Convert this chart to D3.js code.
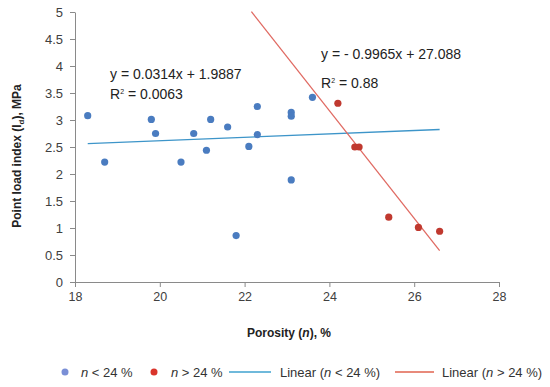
<!DOCTYPE html>
<html><head><meta charset="utf-8">
<script src="https://cdn.jsdelivr.net/npm/d3@7"></script>
<style>body{margin:0;background:#fff}svg{display:block}text{font-family:"Liberation Sans",Arial,sans-serif}</style>
</head><body><svg id="c" width="550" height="387"></svg>
<script>
const lowX = [18.3,18.7,19.8,19.9,20.5,20.8,21.1,21.2,21.6,21.8,22.1,22.3,22.3,23.1,23.1,23.1,23.6];
const lowY = [3.08,2.22,3.01,2.75,2.22,2.75,2.44,3.01,2.87,0.86,2.51,3.25,2.73,3.14,3.07,1.89,3.42];
const highX = [24.2,24.6,24.7,25.4,26.1,26.6];
const highY = [3.31,2.50,2.50,1.20,1.01,0.94];
const xTicks = [18,20,22,24,26,28];
const yTicks = [0,0.5,1,1.5,2,2.5,3,3.5,4,4.5,5];
const lowFit = {slope:0.0314, intercept:1.9887, x0:18.3, x1:26.6};
const highFit = {slope:-0.9965, intercept:27.088, x0:22.16, x1:26.6};

const svg = d3.select('#c');
const x = d3.scaleLinear().domain([18,28]).range([75,499]);
const y = d3.scaleLinear().domain([0,5]).range([282,12]);
const axisCol = '#8a8a8a', txtCol = '#404040';

const xa = svg.append('g').attr('transform','translate(0,282)')
  .call(d3.axisBottom(x).tickValues(xTicks).tickSize(5).tickSizeOuter(0).tickFormat(d3.format('d')));
const ya = svg.append('g').attr('transform','translate(75,0)')
  .call(d3.axisLeft(y).tickValues(yTicks).tickSize(5).tickSizeOuter(0).tickFormat(d=>String(d)));
[xa,ya].forEach(a=>{
  a.selectAll('path,line').attr('stroke',axisCol);
  a.selectAll('text').attr('fill',txtCol);
});
xa.selectAll('text').style('font-size','12.5px').attr('y',19).attr('dy',0);
ya.selectAll('text').style('font-size','13px').attr('x',-12);

// trend lines
function fitLine(f,col){
  svg.append('line').attr('x1',x(f.x0)).attr('y1',y(f.slope*f.x0+f.intercept))
    .attr('x2',x(f.x1)).attr('y2',y(f.slope*f.x1+f.intercept))
    .attr('stroke',col).attr('stroke-width',1.3);
}
const blueLine = '#3d95c9', redLine = '#e06a62';
fitLine(lowFit, blueLine);
fitLine(highFit, redLine);

const blueDot = '#4a7cc0', redDot = '#c0392f';
svg.append('g').selectAll('circle').data(lowX.map((d,i)=>[d,lowY[i]])).join('circle')
  .attr('cx',d=>x(d[0])).attr('cy',d=>y(d[1])).attr('r',3.6).attr('fill',blueDot);
svg.append('g').selectAll('circle').data(highX.map((d,i)=>[d,highY[i]])).join('circle')
  .attr('cx',d=>x(d[0])).attr('cy',d=>y(d[1])).attr('r',3.6).attr('fill',redDot);

// equations
function eq(xp,yp,t){svg.append('text').attr('x',xp).attr('y',yp).attr('fill','#222').style('font-size','14px').text(t);}
eq(110,79,'y = 0.0314x + 1.9887');
eq(321,59,'y = - 0.9965x + 27.088');
function r2(xp,yp,v){
  const t = svg.append('text').attr('x',xp).attr('y',yp).attr('fill','#222').style('font-size','14px');
  t.append('tspan').text('R');
  t.append('tspan').attr('dy',-5).style('font-size','7px').text('2');
  t.append('tspan').attr('dy',5).text(' = '+v);
}
r2(110,99,'0.0063');
r2(321,88,'0.88');

// axis titles
const yt = svg.append('text').attr('transform','translate(21,156) rotate(-90)').attr('text-anchor','middle')
  .attr('fill','#222').style('font-size','12px').style('font-weight','bold');
yt.append('tspan').text('Point load index (I');
yt.append('tspan').attr('dy',3).style('font-size','8px').text('d');
yt.append('tspan').attr('dy',-3).text('), MPa');

const xt = svg.append('text').attr('x',289).attr('y',337).attr('text-anchor','middle')
  .attr('fill','#222').style('font-size','12px').style('font-weight','bold');
xt.append('tspan').text('Porosity (');
xt.append('tspan').style('font-style','italic').text('n');
xt.append('tspan').text('), %');

// legend
const ly = 372;
function legText(xp,pre,post){
  const t = svg.append('text').attr('x',xp).attr('y',ly+4.5).attr('fill','#333').style('font-size','13px');
  if(pre) t.append('tspan').text(pre);
  t.append('tspan').style('font-style','italic').text('n');
  t.append('tspan').text(post);
}
svg.append('circle').attr('cx',65).attr('cy',ly).attr('r',3.5).attr('fill','#7a8fd6');
legText(81,'',' < 24 %');
svg.append('circle').attr('cx',154).attr('cy',ly).attr('r',3.5).attr('fill','#d9342b');
legText(171,'',' > 24 %');
svg.append('line').attr('x1',229).attr('x2',271).attr('y1',ly).attr('y2',ly).attr('stroke','#3fa2cf').attr('stroke-width',1.5);
legText(280,'Linear (',' < 24 %)');
svg.append('line').attr('x1',395).attr('x2',434).attr('y1',ly).attr('y2',ly).attr('stroke','#e0634f').attr('stroke-width',1.5);
legText(442,'Linear (',' > 24 %)');
</script></body></html>
